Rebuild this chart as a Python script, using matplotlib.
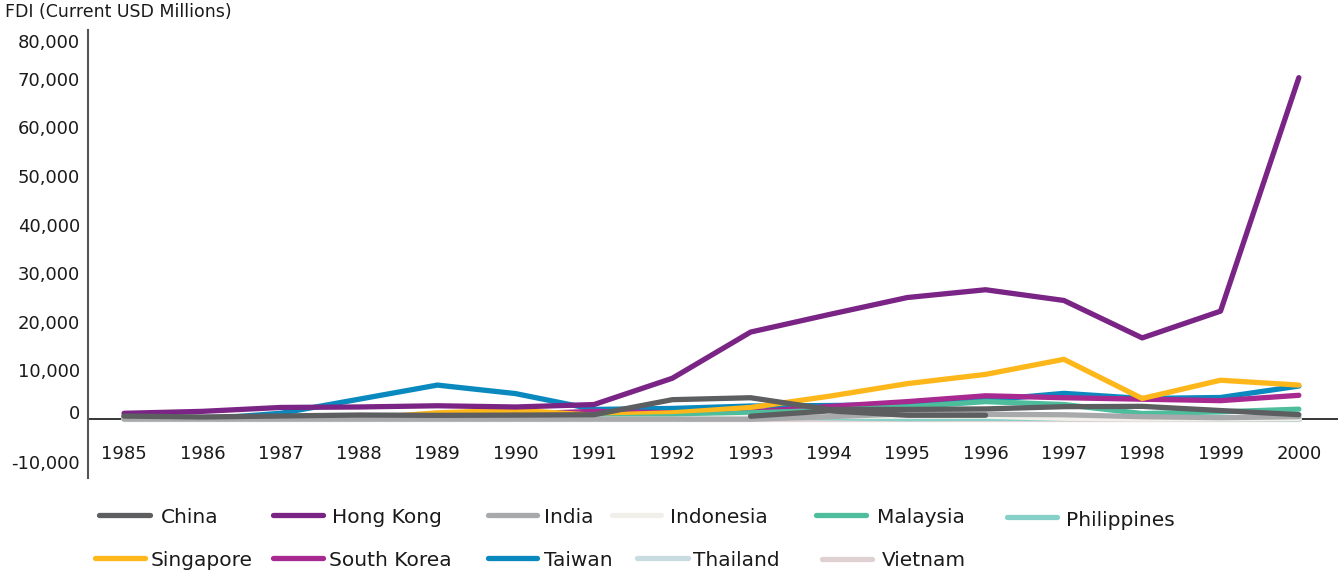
import numpy as np
import matplotlib
matplotlib.use("Agg")
import matplotlib.pyplot as plt
from matplotlib.lines import Line2D
from matplotlib.transforms import ScaledTranslation

plt.rcParams['font.family'] = ['DejaVu Sans']

years = list(range(1985, 2001))
nan = np.nan

china       = [630, 450, 650, 850, 780, 830, 910, 4000, 4400, 2000, 2000, 2100, 2560, 2630, 1770, 920]
china_extra = [nan, nan, nan, nan, nan, nan, nan, nan, 600, 1700, 800, 800, nan, nan, nan, nan]
hong_kong   = [1200, 1600, 2400, 2500, 2750, 2500, 3000, 8400, 17900, 21500, 25000, 26600, 24400, 16700, 22200, 70200]
india       = [0, 0, 0, 0, 0, 0, 0, 0, 0, 500, 1100, 1000, 900, 500, 300, 500]
indonesia   = [0, 0, 0, 0, 0, 0, 0, 0, 360, 610, 600, 600, 180, 40, 70, 150]
malaysia    = [200, 200, 100, 200, 100, 100, 200, 500, 1300, 1800, 2500, 3600, 3000, 1150, 1500, 2050]
philippines = [0, 0, 0, 0, 0, 0, 0, 0, 370, 300, 100, 180, 140, 160, 100, 100]
singapore   = [250, 200, 200, 100, 1300, 1850, 800, 1300, 2400, 4700, 7300, 9200, 12300, 4250, 8000, 7000]
south_korea = [600, 200, 400, 200, 600, 1000, 1600, 1300, 1500, 2600, 3600, 4800, 4400, 4100, 3800, 4900]
taiwan      = [150, 0, 1200, 4100, 7000, 5250, 2000, 2200, 2700, 2800, 3000, 3900, 5300, 4250, 4450, 6800]
thailand    = [0, 0, 200, 0, 50, 150, 170, 150, 230, 490, 890, 930, 580, 130, 350, 0]
vietnam     = [0, 0, 0, 0, 0, 0, 0, 0, 0, 0, 0, 0, 0, 0, 0, 0]

names  = ["China", "Hong Kong", "India", "Indonesia", "Malaysia", "Philippines",
          "Singapore", "South Korea", "Taiwan", "Thailand", "Vietnam"]
series = [china, hong_kong, india, indonesia, malaysia, philippines,
          singapore, south_korea, taiwan, thailand, vietnam]
colors = ["#5d5e60", "#7a2585", "#a8a9ab", "#f1efe9", "#4dbd9b", "#86d0c8",
          "#fdb71b", "#a8298f", "#0a89bf", "#c8dbe1", "#dfd0d2"]

yticks = [-10000, 0, 10000, 20000, 30000, 40000, 50000, 60000, 70000, 80000]

W, H = 1338, 574
fig = plt.figure(figsize=(W / 100, H / 100), dpi=100)
ax = fig.add_axes([88 / W, 1 - 478 / H, 1 - 88 / W, (478 - 30) / H])

lw = 3.8
for name, vals, col in reversed(list(zip(names, series, colors))):
    z = 5 if name == "China" else (4 if name == "Hong Kong" else 3)
    ax.plot(years, vals, color=col, lw=lw, solid_capstyle='round', zorder=z)
ax.plot(years, china_extra, color=colors[0], lw=lw, solid_capstyle='round', zorder=3)

ax.axhline(0, color='black', lw=1.1, zorder=2)

ax.set_xlim(1984.54, 2000.5)
ax.set_ylim(-12100, 80000)

for s in ['top', 'right', 'bottom']:
    ax.spines[s].set_visible(False)
ax.spines['left'].set_color('#555555')
ax.spines['left'].set_linewidth(1.5)
ax.spines['bottom'].set_position(('data', -4800))

ax.set_xticks(years)
ax.set_xticklabels([str(y) for y in years])
ax.set_yticks(yticks)
ax.set_yticklabels([f"{v:,}" for v in yticks])
ax.tick_params(axis='x', length=0, pad=2, labelsize=13, colors='#1a1a1a')
ax.tick_params(axis='y', length=0, pad=5.8, labelsize=13, colors='#1a1a1a')

offsets = {80000: -11, 0: 7, -10000: 6}
for lab, v in zip(ax.get_yticklabels(), yticks):
    if v in offsets:
        lab.set_transform(lab.get_transform() + ScaledTranslation(0, offsets[v] / 100, fig.dpi_scale_trans))

fig.text(5 / W, 1 - 12 / H, "FDI (Current USD Millions)", fontsize=12.5,
         va='center', ha='left', color='#1a1a1a')

# legend (manual layout)
leg_pos = {
    "China": (99, 150, 161, 515, 523),
    "Hong Kong": (273, 323, 332, 515, 523),
    "India": (488, 537, 544, 515, 523),
    "Indonesia": (612, 661, 670, 515, 523),
    "Malaysia": (816, 866, 877, 515, 523),
    "Philippines": (1007, 1057, 1066, 517, 526),
    "Singapore": (95, 145, 151, 558, 566),
    "South Korea": (273, 323, 329, 558, 566),
    "Taiwan": (488, 537, 544, 558, 566),
    "Thailand": (637, 688, 693, 558, 566),
    "Vietnam": (822, 872, 882, 559, 566),
}
for name, col in zip(names, colors):
    x0, x1, tx, hy, by = leg_pos[name]
    fig.add_artist(Line2D([x0 / W, x1 / W], [1 - hy / H, 1 - hy / H], transform=fig.transFigure,
                          color=col, lw=3.8, solid_capstyle='round'))
    fig.text(tx / W, 1 - by / H, name, fontsize=14.5, ha='left', va='baseline', color='#1a1a1a')

fig.savefig("out.png", dpi=100)
